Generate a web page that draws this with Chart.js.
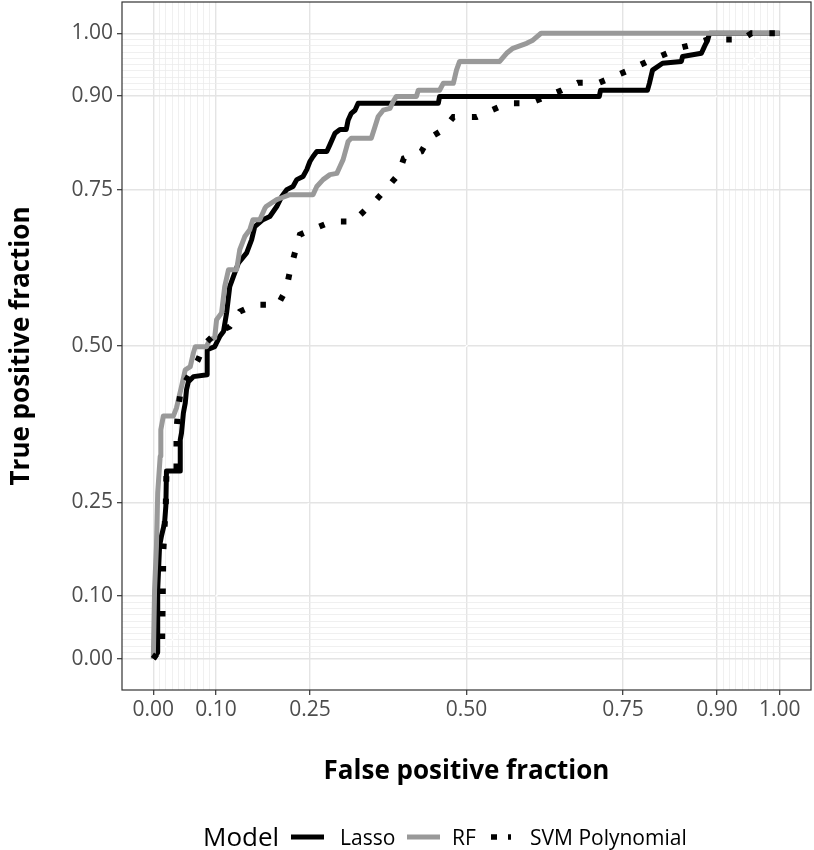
<!DOCTYPE html>
<html>
<head>
<meta charset="utf-8">
<script src="https://cdn.jsdelivr.net/npm/chart.js@4.4.1/dist/chart.umd.min.js"></script>
<style>
  html, body { margin: 0; padding: 0; background: #ffffff; }
  #wrap { width: 814px; height: 850px; position: relative; }
</style>
</head>
<body>
<div id="wrap"><canvas id="roc"></canvas></div>
<script>
// ROC curves (false positive fraction / true positive fraction)
const lassoFpf = [0, 0.007, 0.007, 0.010, 0.013, 0.018, 0.020, 0.021, 0.043, 0.043, 0.045, 0.048, 0.051, 0.053, 0.056, 0.064, 0.086, 0.086, 0.098, 0.106, 0.112, 0.117, 0.122, 0.130, 0.136, 0.149, 0.157, 0.162, 0.175, 0.186, 0.197, 0.205, 0.213, 0.223, 0.229, 0.239, 0.245, 0.250, 0.255, 0.261, 0.277, 0.282, 0.290, 0.298, 0.308, 0.311, 0.316, 0.322, 0.327, 0.455, 0.457, 0.712, 0.714, 0.789, 0.792, 0.797, 0.813, 0.843, 0.845, 0.875, 0.880, 0.885, 0.888, 1];
const lassoTpf = [0, 0.010, 0.110, 0.180, 0.196, 0.217, 0.244, 0.300, 0.300, 0.350, 0.361, 0.393, 0.409, 0.430, 0.443, 0.451, 0.454, 0.494, 0.499, 0.515, 0.523, 0.553, 0.595, 0.617, 0.633, 0.649, 0.670, 0.691, 0.702, 0.707, 0.723, 0.739, 0.750, 0.755, 0.766, 0.771, 0.782, 0.795, 0.803, 0.811, 0.811, 0.822, 0.840, 0.846, 0.846, 0.861, 0.872, 0.877, 0.888, 0.888, 0.899, 0.899, 0.909, 0.909, 0.920, 0.941, 0.952, 0.955, 0.963, 0.968, 0.979, 0.989, 1.000, 1];

const rfFpf = [0, 0.002, 0.005, 0.007, 0.011, 0.012, 0.016, 0.032, 0.037, 0.040, 0.045, 0.051, 0.059, 0.064, 0.067, 0.085, 0.090, 0.098, 0.101, 0.109, 0.114, 0.120, 0.133, 0.138, 0.146, 0.154, 0.159, 0.170, 0.178, 0.180, 0.197, 0.205, 0.218, 0.255, 0.261, 0.271, 0.282, 0.293, 0.298, 0.303, 0.308, 0.311, 0.316, 0.348, 0.354, 0.359, 0.367, 0.378, 0.383, 0.388, 0.420, 0.423, 0.457, 0.463, 0.479, 0.484, 0.489, 0.553, 0.564, 0.574, 0.596, 0.606, 0.619, 1];
const rfTpf = [0, 0.110, 0.180, 0.265, 0.324, 0.366, 0.388, 0.388, 0.401, 0.414, 0.435, 0.462, 0.467, 0.489, 0.499, 0.499, 0.510, 0.513, 0.542, 0.553, 0.595, 0.622, 0.622, 0.654, 0.675, 0.686, 0.702, 0.702, 0.720, 0.723, 0.734, 0.737, 0.742, 0.742, 0.755, 0.766, 0.774, 0.776, 0.787, 0.798, 0.816, 0.827, 0.832, 0.832, 0.851, 0.867, 0.877, 0.880, 0.891, 0.899, 0.899, 0.909, 0.909, 0.920, 0.920, 0.941, 0.955, 0.955, 0.968, 0.976, 0.984, 0.989, 1.000, 1];

const svmFpf = [0, 0.014, 0.016, 0.020, 0.021, 0.037, 0.037, 0.040, 0.044, 0.071, 0.082, 0.100, 0.122, 0.138, 0.162, 0.199, 0.212, 0.218, 0.226, 0.234, 0.258, 0.285, 0.319, 0.339, 0.356, 0.374, 0.391, 0.400, 0.428, 0.440, 0.463, 0.479, 0.516, 0.540, 0.565, 0.601, 0.652, 0.678, 0.712, 0.738, 0.764, 0.789, 0.813, 0.842, 0.869, 0.885, 0.940, 0.955, 1];
const svmTpf = [0, 0.020, 0.172, 0.250, 0.300, 0.300, 0.366, 0.401, 0.431, 0.477, 0.503, 0.521, 0.531, 0.555, 0.566, 0.566, 0.590, 0.619, 0.649, 0.678, 0.688, 0.699, 0.699, 0.718, 0.734, 0.754, 0.774, 0.800, 0.811, 0.832, 0.846, 0.866, 0.866, 0.877, 0.888, 0.888, 0.909, 0.921, 0.921, 0.932, 0.943, 0.955, 0.965, 0.977, 0.984, 0.990, 0.990, 1.000, 1];

// faint chance line
const diagFpf = [0, 1];
const diagTpf = [0, 1];

// axis breaks: labelled ones and the fine grid near 0 and 1
const majorBreaks = [0, 0.10, 0.25, 0.50, 0.75, 0.90, 1.00];
const minorBreaks = [0.01, 0.02, 0.03, 0.04, 0.05, 0.06, 0.07, 0.08, 0.09, 0.91, 0.92, 0.93, 0.94, 0.95, 0.96, 0.97, 0.98, 0.99];

const modelNames = ['Lasso', 'RF', 'SVM Polynomial'];

const FONT = 'Open Sans';
const GREY_LINE = '#999999';

function toPoints(xs, ys) {
    return xs.map((x, i) => ({ x: x, y: ys[i] }));
}

function isMajor(v) {
    return majorBreaks.some(b => Math.abs(b - v) < 1e-6);
}

const allBreaks = majorBreaks.concat(minorBreaks).sort((a, b) => a - b);

function setBreaks(scale) {
    scale.ticks = allBreaks.map(v => ({ value: v }));
}

function tickLabel(value) {
    return isMajor(value) ? value.toFixed(2) : '';
}

const gridOpts = {
    color: (c) => (c.tick && isMajor(c.tick.value)) ? '#e4e4e4' : '#ececec',
    lineWidth: (c) => (c.tick && isMajor(c.tick.value)) ? 1.4 : 0.8,
    tickColor: (c) => (c.tick && isMajor(c.tick.value)) ? '#333333' : 'rgba(0,0,0,0)',
    tickLength: 5,
    tickWidth: 1.2
};

// panel border + custom ggplot-like legend
const extras = {
    id: 'extras',
    afterDatasetsDraw(chart) {
        const { ctx, chartArea: a } = chart;
        ctx.save();
        ctx.strokeStyle = '#333333';
        ctx.lineWidth = 1.2;
        ctx.strokeRect(a.left, a.top, a.right - a.left, a.bottom - a.top);
        ctx.restore();
    },
    afterDraw(chart) {
        const ctx = chart.ctx;
        const y = 837;
        ctx.save();
        ctx.fillStyle = '#000000';
        ctx.textBaseline = 'alphabetic';
        ctx.font = '26px "' + FONT + '"';
        ctx.fillText('Model', 203, 846);

        ctx.font = '21px "' + FONT + '"';
        // Lasso key
        ctx.lineWidth = 5;
        ctx.lineCap = 'butt';
        ctx.strokeStyle = '#000000';
        ctx.beginPath(); ctx.moveTo(291, y); ctx.lineTo(324, y); ctx.stroke();
        ctx.fillText(modelNames[0], 340, 845);
        // RF key
        ctx.strokeStyle = GREY_LINE;
        ctx.beginPath(); ctx.moveTo(407, y); ctx.lineTo(440, y); ctx.stroke();
        ctx.fillText(modelNames[1], 452, 845);
        // SVM key
        ctx.strokeStyle = '#000000';
        ctx.lineWidth = 5.5;
        ctx.setLineDash([6, 11]);
        ctx.beginPath(); ctx.moveTo(491, y); ctx.lineTo(511, y); ctx.stroke();
        ctx.setLineDash([]);
        ctx.fillText(modelNames[2], 530, 845);
        ctx.restore();
    }
};

new Chart(document.getElementById('roc'), {
    type: 'scatter',
    data: {
        datasets: [
            {
                label: 'diag',
                data: toPoints(diagFpf, diagTpf),
                showLine: true,
                borderColor: '#ffffff',
                borderWidth: 1.5,
                borderDash: [4, 4],
                pointRadius: 0,
                order: 4
            },
            {
                label: modelNames[0],
                data: toPoints(lassoFpf, lassoTpf),
                showLine: true,
                borderColor: '#000000',
                borderWidth: 5,
                borderJoinStyle: 'round',
                pointRadius: 0,
                order: 3
            },
            {
                label: modelNames[1],
                data: toPoints(rfFpf, rfTpf),
                showLine: true,
                borderColor: GREY_LINE,
                borderWidth: 5,
                borderJoinStyle: 'round',
                pointRadius: 0,
                order: 2
            },
            {
                label: modelNames[2],
                data: toPoints(svmFpf, svmTpf),
                showLine: true,
                borderColor: '#000000',
                borderWidth: 6,
                borderDash: [5.5, 17],
                borderCapStyle: 'butt',
                pointRadius: 0,
                order: 1
            }
        ]
    },
    options: {
        responsive: true,
        maintainAspectRatio: false,
        animation: false,
        layout: { padding: { left: 0, right: 3, top: 2, bottom: 50 } },
        plugins: {
            legend: { display: false },
            tooltip: { enabled: false }
        },
        scales: {
            x: {
                type: 'linear',
                min: -0.05,
                max: 1.05,
                afterBuildTicks: setBreaks,
                afterFit: (s) => { s.height = 110; s.paddingLeft = 0; s.paddingRight = 0; },
                border: { display: false },
                grid: gridOpts,
                ticks: {
                    autoSkip: false,
                    maxRotation: 0,
                    padding: 2,
                    color: '#4d4d4d',
                    font: { family: FONT, size: 21 },
                    callback: tickLabel
                },
                title: {
                    display: true,
                    text: 'False positive fraction',
                    color: '#000000',
                    font: { family: FONT, size: 26, weight: 'bold' },
                    padding: { top: 0, bottom: 13 }
                }
            },
            y: {
                type: 'linear',
                min: -0.05,
                max: 1.05,
                afterBuildTicks: setBreaks,
                afterFit: (s) => { s.width = 122; s.paddingTop = 0; s.paddingBottom = 0; },
                border: { display: false },
                grid: gridOpts,
                ticks: {
                    autoSkip: false,
                    padding: 4,
                    color: '#4d4d4d',
                    font: { family: FONT, size: 21 },
                    callback: tickLabel
                },
                title: {
                    display: true,
                    text: 'True positive fraction',
                    color: '#000000',
                    font: { family: FONT, size: 26, weight: 'bold' },
                    padding: { top: 6, bottom: 0 }
                }
            }
        }
    },
    plugins: [extras]
});
</script>
</body>
</html>
